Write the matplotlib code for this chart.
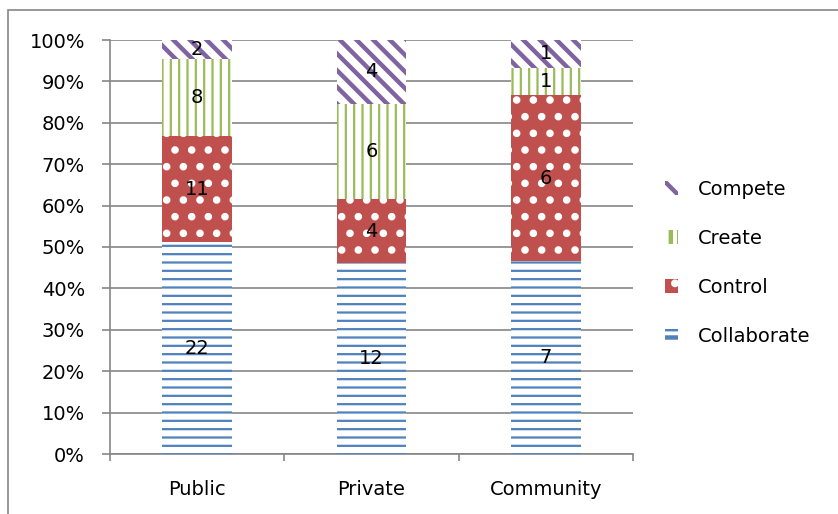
import numpy as np
import matplotlib
matplotlib.use('Agg')
import matplotlib.pyplot as plt
from matplotlib.patches import Rectangle
from matplotlib.ticker import MultipleLocator, PercentFormatter

categories = ['Public', 'Private', 'Community']
collaborate = [22, 12, 7]
control = [11, 4, 6]
create = [8, 6, 1]
compete = [2, 4, 1]

series = [('Collaborate', collaborate, '#4F81BD', '--'),
          ('Control', control, '#C0504D', '.'),
          ('Create', create, '#9BBB59', '||'),
          ('Compete', compete, '#8064A2', '\\\\')]
hatch_widths = {'Collaborate': 1.6, 'Control': 3.0, 'Create': 1.6, 'Compete': 3.2}

counts = np.array([s[1] for s in series], dtype=float)
totals = counts.sum(axis=0)
shares = counts / totals * 100

fig = plt.figure(figsize=(8.38, 5.14), dpi=100)
ax = fig.add_axes([110/838, 60/514, 523/838, 414/514])

grey = '#868686'
x = np.arange(len(categories))
bottom = np.zeros(len(categories))
handles = []
for (name, vals, col, hatch), share in zip(series, shares):
    hlw = hatch_widths[name]
    plt.rcParams['hatch.linewidth'] = hlw
    if name == 'Control':
        bars = ax.bar(x, share, 0.4, bottom=bottom, color=col, edgecolor='white',
                      hatch=hatch, linewidth=0, label=name, zorder=3)
    else:
        bars = ax.bar(x, share, 0.4, bottom=bottom, color='white', edgecolor=col,
                      hatch=hatch, linewidth=0, label=name, zorder=3)
    for b in bars:
        try:
            b.set_hatch_linewidth(hlw)
        except AttributeError:
            pass
    for xi, b0, s, v in zip(x, bottom, share, vals):
        ax.text(xi, b0 + s / 2, str(v), ha='center', va='center', fontsize=14,
                color='black', zorder=5)
    bottom = bottom + share
    handles.append(bars)

ax.set_xlim(-0.5, 2.5)
ax.set_ylim(0, 100)
ax.yaxis.set_major_locator(MultipleLocator(10))
ax.yaxis.set_major_formatter(PercentFormatter(decimals=0))
ax.set_xticks(x)
ax.set_xticklabels(categories, fontsize=14)
ax.set_xticks([-0.5, 0.5, 1.5, 2.5], minor=True)
ax.tick_params(axis='x', which='major', length=0, pad=19)
ax.tick_params(axis='x', which='minor', length=5, color=grey, width=1.2)
ax.tick_params(axis='y', length=6, color=grey, width=1.2, pad=12, labelsize=14)
ax.grid(axis='y', color=grey, linewidth=1.2, zorder=0)
ax.set_axisbelow(True)
for sp in ['top', 'right']:
    ax.spines[sp].set_visible(False)
for sp in ['left', 'bottom']:
    ax.spines[sp].set_color(grey)
    ax.spines[sp].set_linewidth(1.2)

leg = ax.legend(handles[::-1], [s[0] for s in series][::-1], loc='center left',
                bbox_to_anchor=(647/838, 1 - 263/514), bbox_transform=fig.transFigure,
                frameon=False, fontsize=14, handlelength=0.7, handleheight=0.7,
                handletextpad=1.0, labelspacing=1.55)

fig.patches.append(Rectangle((8/838, -0.1), 1.2, 1.1 - 10/514, transform=fig.transFigure,
                             fill=False, edgecolor=grey, linewidth=1.2))

fig.savefig('out.png', dpi=100)
